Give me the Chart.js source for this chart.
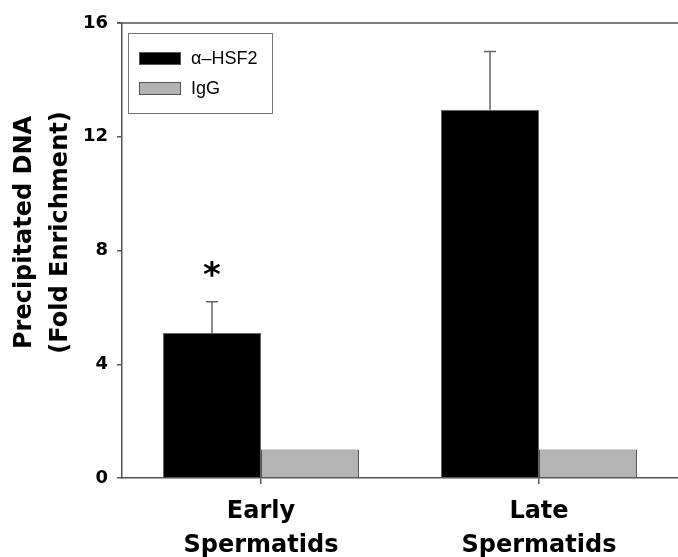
<!DOCTYPE html>
<html>
<head>
<meta charset="utf-8">
<script src="https://cdn.jsdelivr.net/npm/chart.js@4.4.0/dist/chart.umd.min.js"></script>
<style>
  html, body { margin: 0; padding: 0; background: #fff; }
  #wrap { width: 678px; height: 557px; }
</style>
</head>
<body>
<div id="wrap"><canvas id="grafica"></canvas></div>
<script>
// data
const categories = [['Early', 'Spermatids'], ['Late', 'Spermatids']];
const hsf2Values = [5.1, 12.95];
const hsf2Errors = [1.1, 2.05];
const iggValues = [1.0, 1.0];
const marks = ['*', ''];
const yTicks = [0, 4, 8, 12, 16];
const yTitle = ['Precipitated DNA', '(Fold Enrichment)'];

const axisColor = '#555';
const boldFont = 'DejaVu Sans';

// error bars + asterisk above the black bars
const errorBars = {
    id: 'errorBars',
    afterDatasetsDraw(chart) {
        const ctx = chart.ctx;
        const y = chart.scales.y;
        const meta = chart.getDatasetMeta(0);
        ctx.save();
        meta.data.forEach((bar, i) => {
            const top = y.getPixelForValue(hsf2Values[i] + hsf2Errors[i]);
            const base = y.getPixelForValue(hsf2Values[i]);
            ctx.strokeStyle = '#666';
            ctx.lineWidth = 1.5;
            ctx.beginPath();
            ctx.moveTo(bar.x, base);
            ctx.lineTo(bar.x, top);
            ctx.moveTo(bar.x - 6, top);
            ctx.lineTo(bar.x + 6, top);
            ctx.stroke();
            if (marks[i]) {
                ctx.fillStyle = '#000';
                ctx.font = 'bold 34px ' + boldFont;
                ctx.textAlign = 'center';
                ctx.textBaseline = 'middle';
                ctx.fillText(marks[i], bar.x, top - 25);
            }
        });
        ctx.restore();
    }
};

// top frame line, y title and the boxed legend
const frame = {
    id: 'frame',
    afterDraw(chart) {
        const ctx = chart.ctx;
        const a = chart.chartArea;
        ctx.save();
        ctx.strokeStyle = axisColor;
        ctx.lineWidth = 1.5;
        ctx.beginPath();
        ctx.moveTo(a.left - 5, a.top);
        ctx.lineTo(a.right, a.top);
        ctx.stroke();

        // y axis title
        ctx.fillStyle = '#000';
        ctx.font = 'bold 24px ' + boldFont;
        ctx.textAlign = 'center';
        ctx.textBaseline = 'middle';
        const cy = (a.top + a.bottom) / 2 - 18;
        yTitle.forEach((t, i) => {
            ctx.save();
            ctx.translate(25 + i * 36, cy);
            ctx.rotate(-Math.PI / 2);
            ctx.fillText(t, 0, 0);
            ctx.restore();
        });

        // legend
        const lx = a.left + 6, ly = a.top + 10;
        ctx.strokeStyle = '#777';
        ctx.lineWidth = 1;
        ctx.strokeRect(lx + 0.5, ly + 0.5, 144, 80);
        ctx.font = '18px "Liberation Sans"';
        ctx.textAlign = 'left';
        chart.data.datasets.forEach((ds, i) => {
            const sy = ly + 19 + i * 30;
            ctx.fillStyle = ds.backgroundColor;
            ctx.fillRect(lx + 11, sy, 42, 13);
            ctx.strokeStyle = '#555';
            ctx.strokeRect(lx + 11.5, sy + 0.5, 41, 12);
            ctx.fillStyle = '#000';
            ctx.fillText(ds.label, lx + 63, sy + 7);
        });
        ctx.restore();
    }
};

const ctx = document.getElementById('grafica').getContext('2d');
const grafica = new Chart(ctx, {
    type: 'bar',
    data: {
        labels: categories,
        datasets: [{
            label: '\u03b1\u2013HSF2',
            data: hsf2Values,
            backgroundColor: '#000000',
            borderColor: '#666',
            borderWidth: 1
        }, {
            label: 'IgG',
            data: iggValues,
            backgroundColor: '#b4b4b4',
            borderColor: '#555',
            borderWidth: 1
        }]
    },
    options: {
        responsive: true,
        maintainAspectRatio: false,
        animation: false,
        layout: { padding: { top: 23, right: 0, left: 0, bottom: 0 } },
        datasets: { bar: { categoryPercentage: 0.705, barPercentage: 1.0 } },
        plugins: { legend: { display: false }, tooltip: { enabled: false } },
        scales: {
            x: {
                grid: { offset: false, drawOnChartArea: false, tickLength: 6, color: axisColor, lineWidth: 1.5 },
                border: { color: axisColor, width: 1.5 },
                ticks: {
                    color: '#000',
                    font: { family: boldFont, size: 24, weight: 'bold', lineHeight: 1.45 },
                    padding: 10,
                    maxRotation: 0
                },
                afterFit(scale) { scale.height = 79; }
            },
            y: {
                min: 0,
                max: 16,
                afterBuildTicks(scale) { scale.ticks = yTicks.map(v => ({ value: v })); },
                grid: { drawOnChartArea: false, tickLength: 5, color: axisColor, lineWidth: 1.5 },
                border: { color: axisColor, width: 1.5 },
                ticks: {
                    color: '#000',
                    font: { family: boldFont, size: 18, weight: 'bold' },
                    padding: 9
                },
                afterFit(scale) { scale.width = 122; }
            }
        }
    },
    plugins: [errorBars, frame]
});
</script>
</body>
</html>
